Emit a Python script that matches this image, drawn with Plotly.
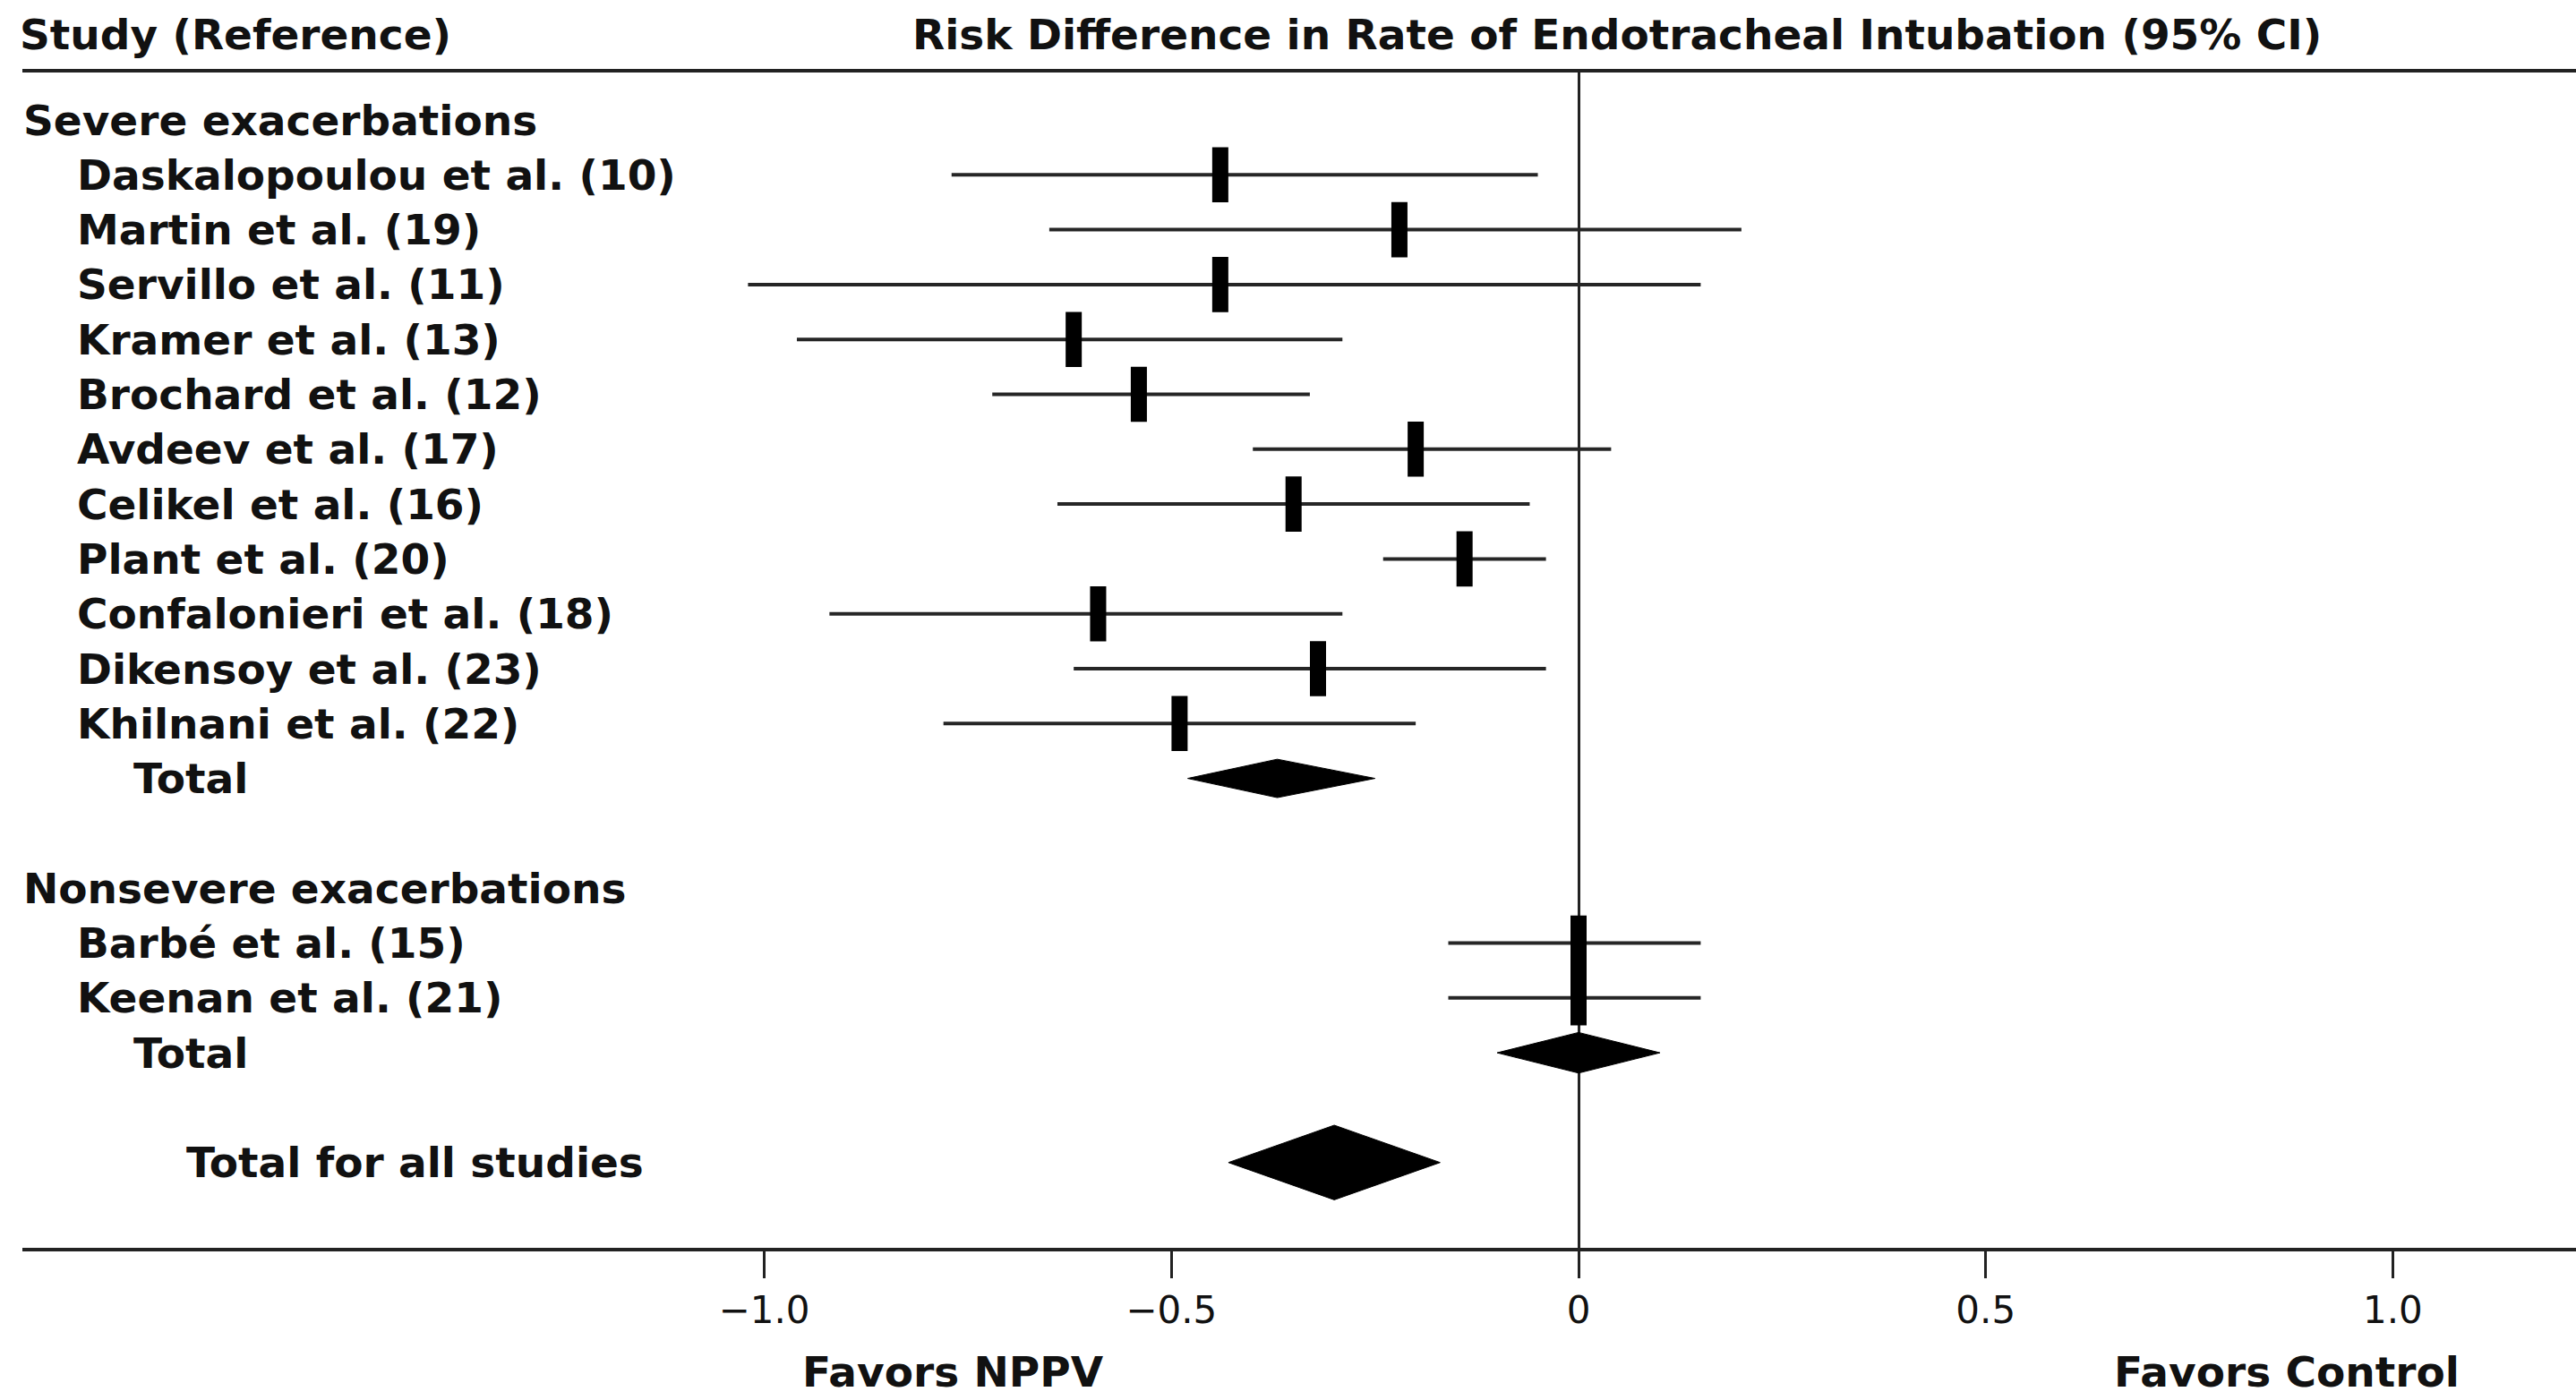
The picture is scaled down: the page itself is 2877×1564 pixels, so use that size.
import plotly.graph_objects as go

# ---------------- data ----------------
studies = ["Daskalopoulou et al. (10)", "Martin et al. (19)", "Servillo et al. (11)",
           "Kramer et al. (13)", "Brochard et al. (12)", "Avdeev et al. (17)",
           "Celikel et al. (16)", "Plant et al. (20)", "Confalonieri et al. (18)",
           "Dikensoy et al. (23)", "Khilnani et al. (22)",
           "Barbé et al. (15)", "Keenan et al. (21)"]
study_rows = [1, 2, 3, 4, 5, 6, 7, 8, 9, 10, 11, 15, 16]
rd = [-0.44, -0.22, -0.44, -0.62, -0.54, -0.20, -0.35, -0.14, -0.59, -0.32, -0.49, 0.00, 0.00]
rd_lo = [-0.77, -0.65, -1.02, -0.96, -0.72, -0.40, -0.64, -0.24, -0.92, -0.62, -0.78, -0.16, -0.16]
rd_hi = [-0.05, 0.20, 0.15, -0.29, -0.33, 0.04, -0.06, -0.04, -0.29, -0.04, -0.20, 0.15, 0.15]

groups = ["Severe exacerbations", "Nonsevere exacerbations"]
group_rows = [0, 14]

pooled_labels = ["Total", "Total", "Total for all studies"]
pooled_rows = [12, 17, 19]
pooled = [-0.37, 0.00, -0.30]
pooled_lo = [-0.48, -0.10, -0.43]
pooled_hi = [-0.25, 0.10, -0.17]
pooled_half_height = [0.35, 0.37, 0.68]   # diamond half-height in row units (style)

tick_vals = [-1.0, -0.5, 0.0, 0.5, 1.0]
tick_text = ["\u22121.0", "\u22120.5", "0", "0.5", "1.0"]

# ---------------- figure ----------------
W, H = 2877, 1564
FONT = "DejaVu Sans"
INK = "#111111"
FS = 47

fig = go.Figure()

# confidence-interval lines
xs, ys = [], []
for lo, hi, r in zip(rd_lo, rd_hi, study_rows):
    xs += [lo, hi, None]
    ys += [r, r, None]
fig.add_trace(go.Scatter(x=xs, y=ys, mode="lines",
                         line=dict(color="#262626", width=4),
                         hoverinfo="skip", showlegend=False))

# point estimates (vertical bars)
fig.add_trace(go.Scatter(x=rd, y=study_rows, mode="markers",
                         marker=dict(symbol="line-ns-open", size=44, color="#000000",
                                     line=dict(color="#000000", width=18)),
                         showlegend=False))

# pooled diamonds
for p, lo, hi, r, hh in zip(pooled, pooled_lo, pooled_hi, pooled_rows, pooled_half_height):
    fig.add_trace(go.Scatter(x=[lo, p, hi, p, lo], y=[r, r - hh, r, r + hh, r],
                             mode="lines", fill="toself", fillcolor="#000000",
                             line=dict(color="#000000", width=1),
                             hoverinfo="skip", showlegend=False))

# ---------------- labels ----------------
L_PLOT = 25
PW = W - L_PLOT
def px_to_paper(px):
    return (px - L_PLOT) / PW

bold = dict(family=FONT, size=FS, color=INK, weight=700)

ann = []
for g, r in zip(groups, group_rows):
    ann.append(dict(text=g, x=px_to_paper(24), y=r))
for s, r in zip(studies, study_rows):
    ann.append(dict(text=s, x=px_to_paper(84), y=r))
for lab, r in zip(pooled_labels, pooled_rows):
    ann.append(dict(text=lab, x=px_to_paper(147 if lab == "Total" else 206), y=r))
for a in ann:
    a.update(xref="paper", yref="y", xanchor="left", yanchor="middle", showarrow=False,
             font=bold)
    fig.add_annotation(**a)

T_PLOT, B_PLOT = 81, 1394
PH = B_PLOT - T_PLOT
def py_to_paper(py):
    return (B_PLOT - py) / PH

fig.add_annotation(text="Study (Reference)", xref="paper", yref="paper",
                   x=px_to_paper(20), y=py_to_paper(38), xanchor="left", yanchor="middle",
                   showarrow=False, font=bold)
fig.add_annotation(text="Risk Difference in Rate of Endotracheal Intubation (95% CI)",
                   xref="paper", yref="paper", x=px_to_paper(1806), y=py_to_paper(38),
                   xanchor="center", yanchor="middle", showarrow=False, font=bold)
fig.add_annotation(text="Favors NPPV", xref="paper", yref="paper",
                   x=px_to_paper(1064), y=py_to_paper(1532), xanchor="center", yanchor="middle",
                   showarrow=False, font=bold)
fig.add_annotation(text="Favors Control", xref="paper", yref="paper",
                   x=px_to_paper(2554), y=py_to_paper(1532), xanchor="center", yanchor="middle",
                   showarrow=False, font=bold)

# ---------------- axes ----------------
ROW0_PX, ROW_H = 134, 61.3
y_top = (T_PLOT - ROW0_PX) / ROW_H
y_bot = (B_PLOT - ROW0_PX) / ROW_H
ZERO_PX, UNIT_PX = 1763, 909.4
x_left = (L_PLOT - ZERO_PX) / UNIT_PX
x_right = (W - ZERO_PX) / UNIT_PX

fig.update_layout(
    width=W, height=H,
    margin=dict(l=L_PLOT, r=0, t=T_PLOT, b=H - B_PLOT, pad=0),
    paper_bgcolor="white", plot_bgcolor="white",
    font=dict(family=FONT, color=INK),
    showlegend=False,
    xaxis=dict(range=[x_left, x_right], showgrid=False,
               zeroline=True, zerolinecolor="#222222", zerolinewidth=3,
               showline=True, linecolor="#222222", linewidth=4, mirror=True,
               ticks="outside", ticklen=30, tickwidth=3, tickcolor="#222222",
               tickvals=tick_vals, ticktext=tick_text,
               tickfont=dict(family=FONT, size=42, color=INK)),
    yaxis=dict(range=[y_bot, y_top], showgrid=False, zeroline=False,
               showticklabels=False, showline=False, ticks=""),
)

fig.write_html("out.html")
